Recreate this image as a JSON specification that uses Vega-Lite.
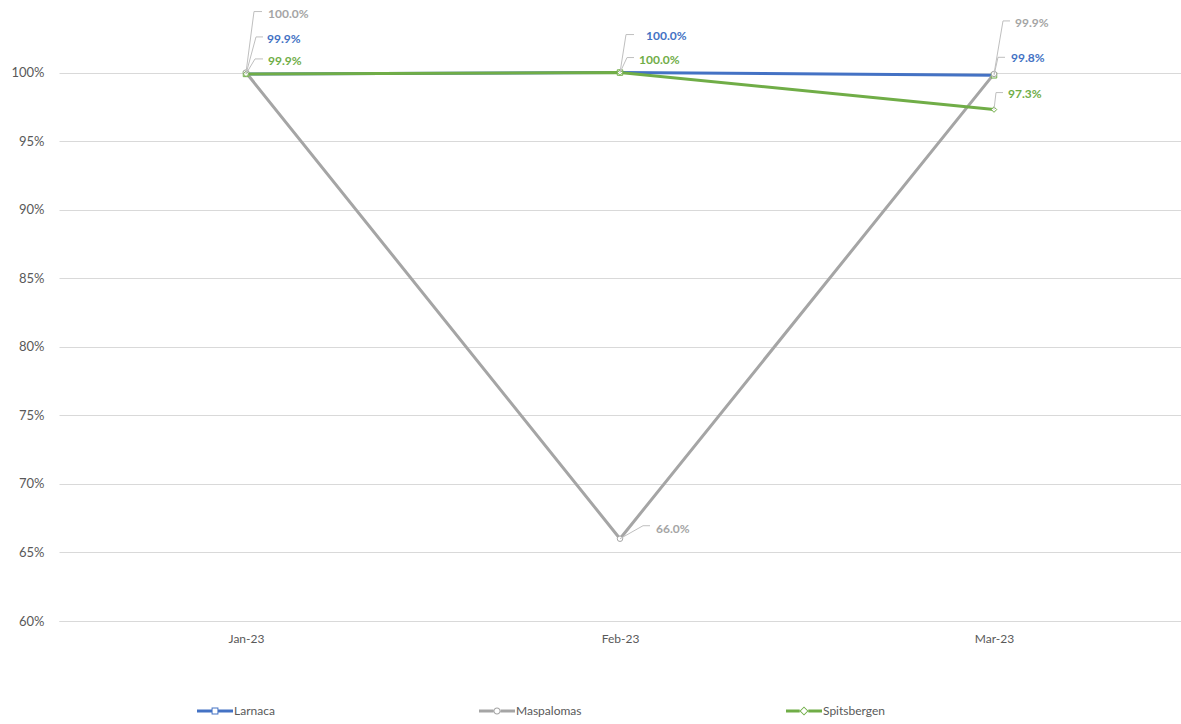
{
  "$schema": "https://vega.github.io/schema/vega-lite/v6.json",
  "autosize": "none",
  "width": 1122,
  "height": 617,
  "padding": {"left": 59, "top": 4, "right": 0, "bottom": 103},
  "background": "white",
  "config": {
    "view": {"stroke": null},
    "font": "Lato"
  },
  "datasets": {
    "rates": [
      {"month": "Jan-23", "series": "Larnaca", "rate": 0.999},
      {"month": "Feb-23", "series": "Larnaca", "rate": 1.0},
      {"month": "Mar-23", "series": "Larnaca", "rate": 0.998},
      {"month": "Jan-23", "series": "Maspalomas", "rate": 1.0},
      {"month": "Feb-23", "series": "Maspalomas", "rate": 0.66},
      {"month": "Mar-23", "series": "Maspalomas", "rate": 0.999},
      {"month": "Jan-23", "series": "Spitsbergen", "rate": 0.999},
      {"month": "Feb-23", "series": "Spitsbergen", "rate": 1.0},
      {"month": "Mar-23", "series": "Spitsbergen", "rate": 0.973}
    ]
  },
  "data": {"name": "rates"},
  "encoding": {
    "x": {
      "field": "month", "type": "ordinal", "sort": ["Jan-23", "Feb-23", "Mar-23"],
      "scale": {"type": "point", "padding": 0.5},
      "axis": {"title": null, "labelAngle": 0, "ticks": false, "domain": true, "domainColor": "#D9D9D9",
               "labelPadding": 12, "labelFontSize": 12, "labelColor": "#595959", "grid": false}
    },
    "y": {
      "field": "rate", "type": "quantitative",
      "scale": {"domain": [0.6, 1.05], "nice": false, "zero": false},
      "axis": {"title": null, "values": [0.6, 0.65, 0.7, 0.75, 0.8, 0.85, 0.9, 0.95, 1.0], "format": ".0%",
               "grid": true, "gridColor": "#D9D9D9", "domain": false, "ticks": false,
               "labelPadding": 15, "labelFontSize": 13, "labelColor": "#595959"}
    }
  },
  "layer": [
    {
      "mark": {"type": "line", "strokeWidth": 3},
      "encoding": {
        "color": {
          "field": "series", "type": "nominal",
          "scale": {"domain": ["Larnaca", "Maspalomas", "Spitsbergen"], "range": ["#4472C4", "#A5A5A5", "#70AD47"]},
          "legend": {
            "orient": "none", "legendX": 138, "legendY": 689, "direction": "horizontal", "columns": 3,
            "columnPadding": 204, "title": null, "symbolSize": 1296, "symbolStrokeWidth": 0,
            "labelFontSize": 12, "labelColor": "#595959", "labelOffset": 1,
            "encode": {
              "symbols": {
                "update": {
                  "shape": {"signal": "datum.value === 'Larnaca' ? 'M-1,-0.083H-0.19V0.083H-1Z M0.19,-0.083H1V0.083H0.19Z M-0.19,-0.19H0.19V0.19H-0.19Z M-0.135,-0.135V0.135H0.135V-0.135Z' : datum.value === 'Maspalomas' ? 'M-1,-0.083H-0.2V0.083H-1Z M0.2,-0.083H1V0.083H0.2Z M0.2,0A0.2,0.2 0 1,1 -0.2,0A0.2,0.2 0 1,1 0.2,0Z M0.14,0A0.14,0.14 0 1,0 -0.14,0A0.14,0.14 0 1,0 0.14,0Z' : 'M-1,-0.083H-0.24V0.083H-1Z M0.24,-0.083H1V0.083H0.24Z M-0.25,0L0,-0.25L0.25,0L0,0.25Z M-0.18,0L0,0.18L0.18,0L0,-0.18Z'"},
                  "fill": {"signal": "scale('color', datum.value)"},
                  "strokeWidth": {"value": 0}
                }
              }
            }
          }
        }
      }
    },
    {"transform": [{"filter": "datum.series === 'Larnaca'"}],
     "mark": {"type": "point", "shape": "square", "filled": true, "fill": "white", "stroke": "#70AD47", "strokeWidth": 1, "opacity": 1, "size": 30}},
    {"transform": [{"filter": "datum.series === 'Maspalomas'"}],
     "mark": {"type": "point", "shape": "circle", "filled": true, "fill": "white", "stroke": "#A5A5A5", "strokeWidth": 1, "opacity": 1, "size": 30}},
    {"transform": [{"filter": "datum.series === 'Spitsbergen'"}],
     "mark": {"type": "point", "shape": "diamond", "filled": true, "fill": "white", "stroke": "#70AD47", "strokeWidth": 1, "opacity": 1, "size": 30}},

    {"transform": [{"filter": "datum.series === 'Maspalomas' && datum.month === 'Jan-23'"}],
     "mark": {"type": "rule", "stroke": "#BFBFBF", "strokeWidth": 1, "x2Offset": 8, "y2Offset": -61},
     "encoding": {"x2": {"field": "month"}, "y2": {"field": "rate"}}},
    {"transform": [{"filter": "datum.series === 'Maspalomas' && datum.month === 'Jan-23'"}],
     "mark": {"type": "rule", "stroke": "#BFBFBF", "strokeWidth": 1, "xOffset": 8, "yOffset": -61, "x2Offset": 16, "y2Offset": -61},
     "encoding": {"x2": {"field": "month"}, "y2": {"field": "rate"}}},
    {"transform": [{"filter": "datum.series === 'Maspalomas' && datum.month === 'Jan-23'"}],
     "mark": {"type": "text", "align": "left", "baseline": "middle", "dx": 22, "dy": -59, "fontSize": 12, "fontWeight": "bold", "color": "#A5A5A5"},
     "encoding": {"text": {"field": "rate", "type": "quantitative", "format": ".1%"}}},

    {"transform": [{"filter": "datum.series === 'Larnaca' && datum.month === 'Jan-23'"}],
     "mark": {"type": "rule", "stroke": "#BFBFBF", "strokeWidth": 1, "x2Offset": 10, "y2Offset": -37},
     "encoding": {"x2": {"field": "month"}, "y2": {"field": "rate"}}},
    {"transform": [{"filter": "datum.series === 'Larnaca' && datum.month === 'Jan-23'"}],
     "mark": {"type": "rule", "stroke": "#BFBFBF", "strokeWidth": 1, "xOffset": 10, "yOffset": -37, "x2Offset": 17, "y2Offset": -37},
     "encoding": {"x2": {"field": "month"}, "y2": {"field": "rate"}}},
    {"transform": [{"filter": "datum.series === 'Larnaca' && datum.month === 'Jan-23'"}],
     "mark": {"type": "text", "align": "left", "baseline": "middle", "dx": 21, "dy": -35, "fontSize": 12, "fontWeight": "bold", "color": "#4472C4"},
     "encoding": {"text": {"field": "rate", "type": "quantitative", "format": ".1%"}}},

    {"transform": [{"filter": "datum.series === 'Spitsbergen' && datum.month === 'Jan-23'"}],
     "mark": {"type": "rule", "stroke": "#BFBFBF", "strokeWidth": 1, "x2Offset": 9, "y2Offset": -15},
     "encoding": {"x2": {"field": "month"}, "y2": {"field": "rate"}}},
    {"transform": [{"filter": "datum.series === 'Spitsbergen' && datum.month === 'Jan-23'"}],
     "mark": {"type": "rule", "stroke": "#BFBFBF", "strokeWidth": 1, "xOffset": 9, "yOffset": -15, "x2Offset": 17, "y2Offset": -15},
     "encoding": {"x2": {"field": "month"}, "y2": {"field": "rate"}}},
    {"transform": [{"filter": "datum.series === 'Spitsbergen' && datum.month === 'Jan-23'"}],
     "mark": {"type": "text", "align": "left", "baseline": "middle", "dx": 22, "dy": -13, "fontSize": 12, "fontWeight": "bold", "color": "#70AD47"},
     "encoding": {"text": {"field": "rate", "type": "quantitative", "format": ".1%"}}},

    {"transform": [{"filter": "datum.series === 'Larnaca' && datum.month === 'Feb-23'"}],
     "mark": {"type": "rule", "stroke": "#BFBFBF", "strokeWidth": 1, "x2Offset": 6, "y2Offset": -38},
     "encoding": {"x2": {"field": "month"}, "y2": {"field": "rate"}}},
    {"transform": [{"filter": "datum.series === 'Larnaca' && datum.month === 'Feb-23'"}],
     "mark": {"type": "rule", "stroke": "#BFBFBF", "strokeWidth": 1, "xOffset": 6, "yOffset": -38, "x2Offset": 14, "y2Offset": -38},
     "encoding": {"x2": {"field": "month"}, "y2": {"field": "rate"}}},
    {"transform": [{"filter": "datum.series === 'Larnaca' && datum.month === 'Feb-23'"}],
     "mark": {"type": "text", "align": "left", "baseline": "middle", "dx": 26, "dy": -37, "fontSize": 12, "fontWeight": "bold", "color": "#4472C4"},
     "encoding": {"text": {"field": "rate", "type": "quantitative", "format": ".1%"}}},

    {"transform": [{"filter": "datum.series === 'Spitsbergen' && datum.month === 'Feb-23'"}],
     "mark": {"type": "rule", "stroke": "#BFBFBF", "strokeWidth": 1, "x2Offset": 7, "y2Offset": -15},
     "encoding": {"x2": {"field": "month"}, "y2": {"field": "rate"}}},
    {"transform": [{"filter": "datum.series === 'Spitsbergen' && datum.month === 'Feb-23'"}],
     "mark": {"type": "rule", "stroke": "#BFBFBF", "strokeWidth": 1, "xOffset": 7, "yOffset": -15, "x2Offset": 14, "y2Offset": -15},
     "encoding": {"x2": {"field": "month"}, "y2": {"field": "rate"}}},
    {"transform": [{"filter": "datum.series === 'Spitsbergen' && datum.month === 'Feb-23'"}],
     "mark": {"type": "text", "align": "left", "baseline": "middle", "dx": 19, "dy": -13, "fontSize": 12, "fontWeight": "bold", "color": "#70AD47"},
     "encoding": {"text": {"field": "rate", "type": "quantitative", "format": ".1%"}}},

    {"transform": [{"filter": "datum.series === 'Maspalomas' && datum.month === 'Feb-23'"}],
     "mark": {"type": "rule", "stroke": "#BFBFBF", "strokeWidth": 1, "x2Offset": 23, "y2Offset": -13},
     "encoding": {"x2": {"field": "month"}, "y2": {"field": "rate"}}},
    {"transform": [{"filter": "datum.series === 'Maspalomas' && datum.month === 'Feb-23'"}],
     "mark": {"type": "rule", "stroke": "#BFBFBF", "strokeWidth": 1, "xOffset": 23, "yOffset": -13, "x2Offset": 30, "y2Offset": -13},
     "encoding": {"x2": {"field": "month"}, "y2": {"field": "rate"}}},
    {"transform": [{"filter": "datum.series === 'Maspalomas' && datum.month === 'Feb-23'"}],
     "mark": {"type": "text", "align": "left", "baseline": "middle", "dx": 36, "dy": -10, "fontSize": 12, "fontWeight": "bold", "color": "#A5A5A5"},
     "encoding": {"text": {"field": "rate", "type": "quantitative", "format": ".1%"}}},

    {"transform": [{"filter": "datum.series === 'Maspalomas' && datum.month === 'Mar-23'"}],
     "mark": {"type": "rule", "stroke": "#BFBFBF", "strokeWidth": 1, "x2Offset": 9, "y2Offset": -53},
     "encoding": {"x2": {"field": "month"}, "y2": {"field": "rate"}}},
    {"transform": [{"filter": "datum.series === 'Maspalomas' && datum.month === 'Mar-23'"}],
     "mark": {"type": "rule", "stroke": "#BFBFBF", "strokeWidth": 1, "xOffset": 9, "yOffset": -53, "x2Offset": 16, "y2Offset": -53},
     "encoding": {"x2": {"field": "month"}, "y2": {"field": "rate"}}},
    {"transform": [{"filter": "datum.series === 'Maspalomas' && datum.month === 'Mar-23'"}],
     "mark": {"type": "text", "align": "left", "baseline": "middle", "dx": 21, "dy": -51, "fontSize": 12, "fontWeight": "bold", "color": "#A5A5A5"},
     "encoding": {"text": {"field": "rate", "type": "quantitative", "format": ".1%"}}},

    {"transform": [{"filter": "datum.series === 'Larnaca' && datum.month === 'Mar-23'"}],
     "mark": {"type": "rule", "stroke": "#BFBFBF", "strokeWidth": 1, "x2Offset": 4, "y2Offset": -18},
     "encoding": {"x2": {"field": "month"}, "y2": {"field": "rate"}}},
    {"transform": [{"filter": "datum.series === 'Larnaca' && datum.month === 'Mar-23'"}],
     "mark": {"type": "rule", "stroke": "#BFBFBF", "strokeWidth": 1, "xOffset": 4, "yOffset": -18, "x2Offset": 11, "y2Offset": -18},
     "encoding": {"x2": {"field": "month"}, "y2": {"field": "rate"}}},
    {"transform": [{"filter": "datum.series === 'Larnaca' && datum.month === 'Mar-23'"}],
     "mark": {"type": "text", "align": "left", "baseline": "middle", "dx": 17, "dy": -17, "fontSize": 12, "fontWeight": "bold", "color": "#4472C4"},
     "encoding": {"text": {"field": "rate", "type": "quantitative", "format": ".1%"}}},

    {"transform": [{"filter": "datum.series === 'Spitsbergen' && datum.month === 'Mar-23'"}],
     "mark": {"type": "rule", "stroke": "#BFBFBF", "strokeWidth": 1, "x2Offset": 2, "y2Offset": -17},
     "encoding": {"x2": {"field": "month"}, "y2": {"field": "rate"}}},
    {"transform": [{"filter": "datum.series === 'Spitsbergen' && datum.month === 'Mar-23'"}],
     "mark": {"type": "rule", "stroke": "#BFBFBF", "strokeWidth": 1, "xOffset": 2, "yOffset": -17, "x2Offset": 9, "y2Offset": -17},
     "encoding": {"x2": {"field": "month"}, "y2": {"field": "rate"}}},
    {"transform": [{"filter": "datum.series === 'Spitsbergen' && datum.month === 'Mar-23'"}],
     "mark": {"type": "text", "align": "left", "baseline": "middle", "dx": 14, "dy": -16, "fontSize": 12, "fontWeight": "bold", "color": "#70AD47"},
     "encoding": {"text": {"field": "rate", "type": "quantitative", "format": ".1%"}}}
  ]
}
